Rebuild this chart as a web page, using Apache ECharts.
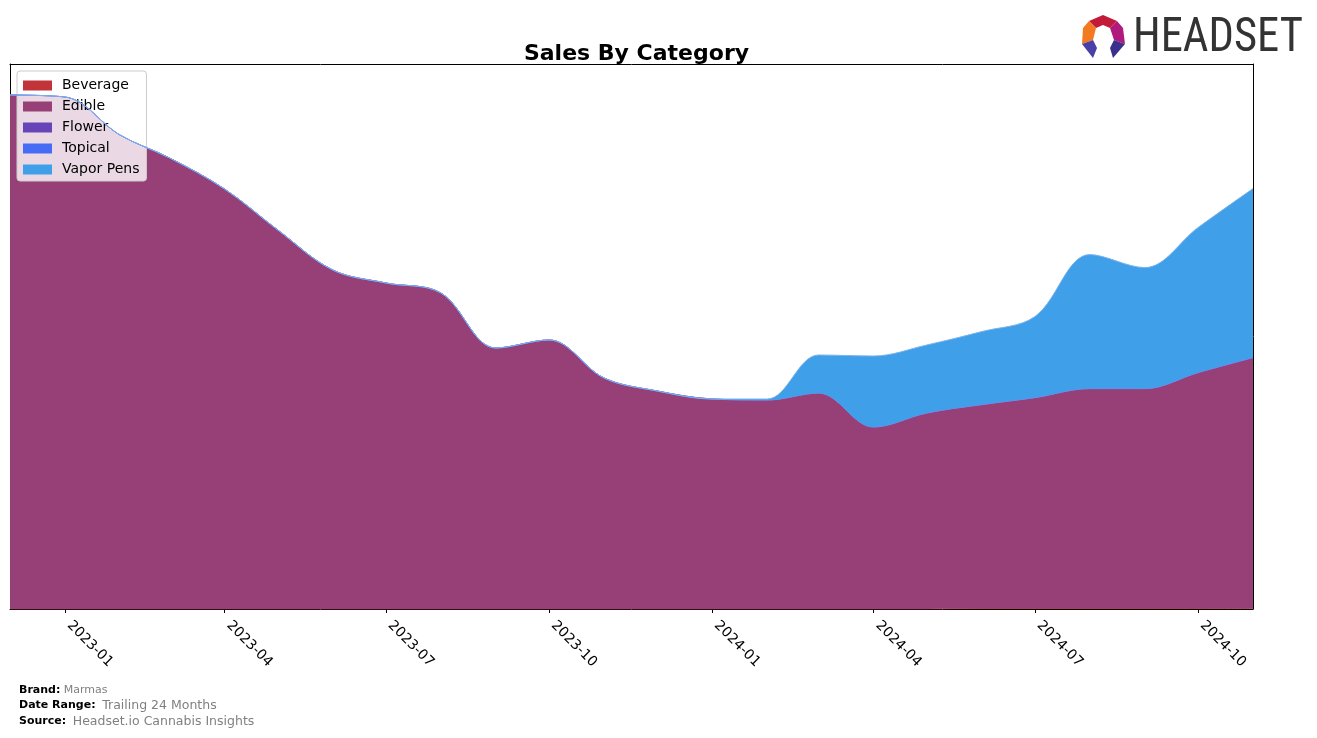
<!DOCTYPE html>
<html>
<head>
<meta charset="utf-8">
<script src="https://cdn.jsdelivr.net/npm/echarts@6/dist/echarts.min.js"></script>
<style>
html,body{margin:0;padding:0;background:#fff;}
#chart{width:1317px;height:738px;}
</style>
</head>
<body>
<div id="chart"></div>
<script>
// ---- data ----
var months = ['2022-12','2023-01','2023-02','2023-03','2023-04','2023-05','2023-06','2023-07','2023-08','2023-09','2023-10','2023-11',
              '2023-12','2024-01','2024-02','2024-03','2024-04','2024-05','2024-06','2024-07','2024-08','2024-09','2024-10','2024-11'];
var beverage  = [0,0,0,0,0,0,0,0,0,0,0,0, 0,0,0,0,0,0,40,40,40,40,40,40];
var edible    = [51400,51200,47400,45100,42000,37900,33900,32600,31600,26100,26900,23100,
                 21800,21000,20900,21600,18200,19600,20400,21100,22000,22000,23600,25100];
var flower    = [0,0,0,0,0,0,0,0,0,0,0,0, 0,0,0,0,0,0,0,0,0,0,0,0];
var topical   = [0,0,0,0,0,0,0,0,0,0,0,0, 0,0,0,0,0,0,0,0,0,0,0,0];
var vaporPens = [0,0,0,0,0,0,0,0,0,0,0,0, 0,0,100,3800,7100,6800,7300,8100,13400,12100,14500,16900];
var tickLabels = ['2023-01','2023-04','2023-07','2023-10','2024-01','2024-04','2024-07','2024-10'];
var seriesNames = ['Beverage','Edible','Flower','Topical','Vapor Pens'];
var seriesColors = ['#c1343a','#964077','#6745b8','#466cf6','#3f9fe8'];

function ts(s){ var p = s.split('-'); return Date.UTC(+p[0], +p[1]-1, 1); }
var xs = months.map(ts);
var tickVals = tickLabels.map(ts);
function pairs(arr){ return arr.map(function(v,i){ return [xs[i], v]; }); }

var dataSets = [beverage, edible, flower, topical, vaporPens];
var lineColors = ['#c1343a','#a05a8a','#7a64c8','#6f8ff5','#7ab3ee'];

var series = dataSets.map(function(d, i){
  return {
    name: seriesNames[i],
    type: 'line',
    xAxisIndex: 0, yAxisIndex: 0,
    stack: 'total',
    smooth: 0.35,
    symbol: 'none',
    data: pairs(d),
    lineStyle: { width: 1, color: lineColors[i] },
    itemStyle: { color: seriesColors[i] },
    areaStyle: { color: seriesColors[i], opacity: 1 },
    z: 2 + i
  };
});

var chart = echarts.init(document.getElementById('chart'), null, {renderer:'canvas'});
var FONT = 'DejaVu Sans';
chart.setOption({
  animation: false,
  backgroundColor: '#ffffff',
  textStyle: { fontFamily: FONT },
  title: {
    text: 'Sales By Category',
    left: 631.5, top: 38,
    textAlign: 'center',
    textStyle: { fontFamily: FONT, fontSize: 22, fontWeight: 'bold', color: '#000' }
  },
  grid: { left: 10, right: 64, top: 64, bottom: 129, containLabel: false },
  legend: {
    data: seriesNames,
    orient: 'vertical',
    left: 17, top: 71,
    icon: 'rect',
    itemWidth: 29, itemHeight: 10,
    itemGap: 6,
    padding: [7, 7, 4, 6],
    backgroundColor: 'rgba(255,255,255,0.8)',
    borderColor: '#cccccc', borderWidth: 1, borderRadius: 3,
    textStyle: { fontFamily: FONT, fontSize: 14, color: '#000', lineHeight: 15, padding: [0,0,0,5] }
  },
  xAxis: [{
    type: 'time',
    min: xs[0], max: xs[xs.length-1],
    splitLine: { show: false },
    axisLine: { show: false },
    axisTick: { show: false },
    axisLabel: { show: false }
  }, {
    type: 'value', position: 'bottom',
    min: xs[0], max: xs[xs.length-1],
    splitLine: { show: false },
    axisLine: { show: true, onZero: false, lineStyle: { color: '#000', width: 1 } },
    axisTick: { show: true, customValues: tickVals, length: 4, lineStyle: { color: '#000' } },
    axisLabel: {
      customValues: tickVals,
      rotate: -45,
      margin: 10,
      padding: [0, 0, 0, 6],
      fontFamily: FONT, fontSize: 14, color: '#000',
      formatter: function(v){ var i = tickVals.indexOf(v); return i >= 0 ? tickLabels[i] : ''; }
    }
  }, {
    type: 'value', position: 'top',
    min: xs[0], max: xs[xs.length-1],
    axisLine: { show: true, onZero: false, lineStyle: { color: '#000', width: 1 } },
    axisTick: { show: false }, axisLabel: { show: false }, splitLine: { show: false }
  }],
  yAxis: [{
    type: 'value', min: 0, max: 54500,
    axisLine: { show: true, lineStyle: { color: '#000', width: 1 } },
    axisTick: { show: false }, axisLabel: { show: false }, splitLine: { show: false }
  }, {
    type: 'value', min: 0, max: 54500, position: 'right',
    axisLine: { show: true, lineStyle: { color: '#000', width: 1 } },
    axisTick: { show: false }, axisLabel: { show: false }, splitLine: { show: false }
  }],
  series: series,
  graphic: [
    // Headset logo
    { type: 'polygon', shape: { points: [[1089,21],[1103,15],[1117,21],[1110,28],[1103,25],[1096,28]] }, style: { fill: '#c41a3a' } },
    { type: 'polygon', shape: { points: [[1089,21],[1096,28],[1093,40],[1082,44],[1083,28]] }, style: { fill: '#f47a22' } },
    { type: 'polygon', shape: { points: [[1117,21],[1123,28],[1125,44],[1114,40],[1110,28]] }, style: { fill: '#b01a7c' } },
    { type: 'polygon', shape: { points: [[1082,44],[1093,40],[1097,48],[1093,58]] }, style: { fill: '#4a3fa6' } },
    { type: 'polygon', shape: { points: [[1125,44],[1114,40],[1110,48],[1113,58]] }, style: { fill: '#3b2f8e' } },
    { type: 'text', x: 1133, y: 14, scaleX: 0.91,
      style: { text: 'HEADSET', fontFamily: 'Liberation Sans Narrow, Roboto Condensed, DejaVu Sans Condensed, sans-serif', fontSize: 49, fill: '#333333' } },
    // footer
    { type: 'text', left: 19, top: 684,
      style: { text: '{b|Brand:} {g|Marmas}', rich: {
        b: { fontFamily: FONT, fontSize: 11, fontWeight: 'bold', fill: '#000' },
        g: { fontFamily: FONT, fontSize: 11, fill: '#808080' } } } },
    { type: 'text', left: 19, top: 699,
      style: { text: '{b|Date Range:}  {g|Trailing 24 Months}', rich: {
        b: { fontFamily: FONT, fontSize: 11, fontWeight: 'bold', fill: '#000' },
        g: { fontFamily: FONT, fontSize: 12.5, fill: '#808080' } } } },
    { type: 'text', left: 19, top: 715,
      style: { text: '{b|Source:}  {g|Headset.io Cannabis Insights}', rich: {
        b: { fontFamily: FONT, fontSize: 11, fontWeight: 'bold', fill: '#000' },
        g: { fontFamily: FONT, fontSize: 12.5, fill: '#808080' } } } }
  ]
});
</script>
</body>
</html>
